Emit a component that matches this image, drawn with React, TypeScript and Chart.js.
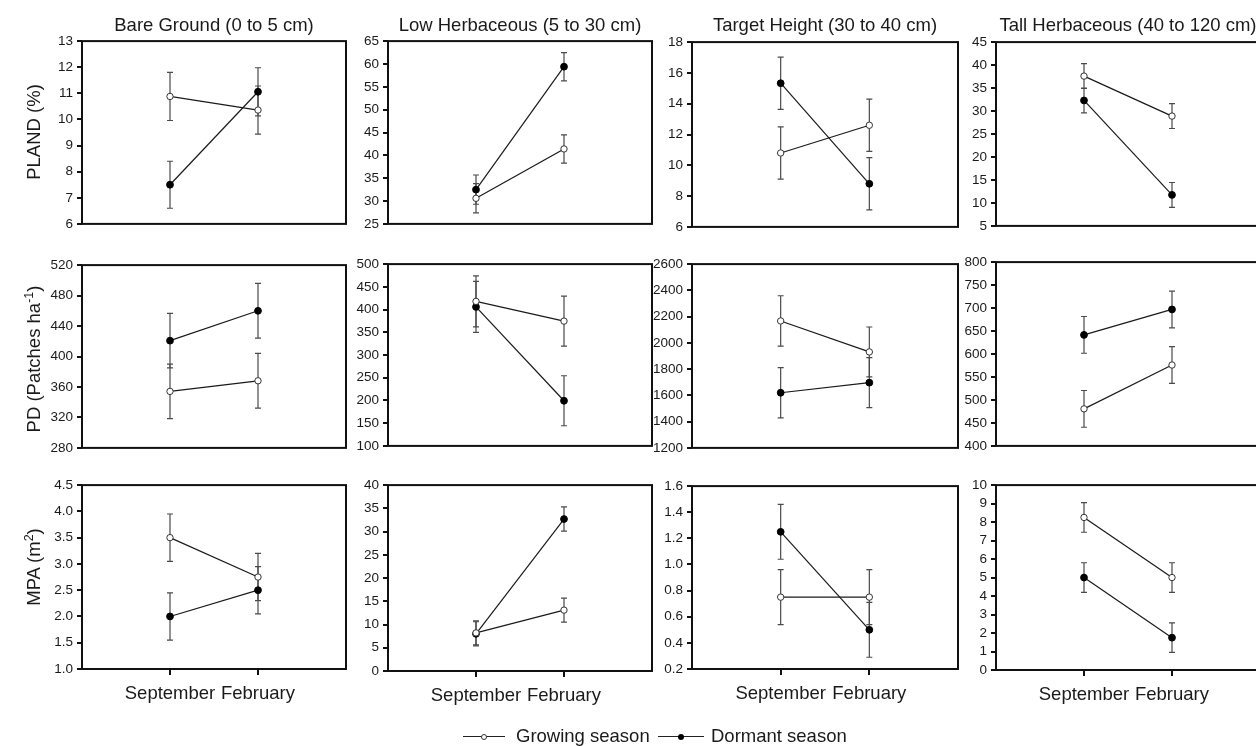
import React, { useEffect, useRef } from 'react';
import { Chart, registerables } from 'chart.js';

Chart.register(...registerables);

// ---------- data ----------
const months = ['September', 'February'];
const monthPos = [1, 2];
const habitats = [
  'Bare Ground (0 to 5 cm)',
  'Low Herbaceous (5 to 30 cm)',
  'Target Height (30 to 40 cm)',
  'Tall Herbaceous (40 to 120 cm)',
];
const seriesNames = ['Growing season', 'Dormant season'];

// PLAND (%)
const plandGrowing = [[10.88, 10.36], [30.6, 41.4], [10.8, 12.6], [37.6, 28.9]];
const plandGrowingSE = [[0.92, 0.92], [3.2, 3.1], [1.7, 1.7], [2.7, 2.7]];
const plandDormant = [[7.5, 11.06], [32.5, 59.4], [15.33, 8.8], [32.3, 11.75]];
const plandDormantSE = [[0.9, 0.92], [3.2, 3.1], [1.7, 1.7], [2.7, 2.7]];
const plandMin = [6, 25, 6, 5];
const plandMax = [13, 65, 18, 45];
const plandStep = [1, 5, 2, 5];

// PD (Patches ha-1)
const pdGrowing = [[354.2, 368.1], [418, 374.6], [2167, 1931], [480.6, 576]];
const pdGrowingSE = [[35.8, 36], [56, 55], [192, 190], [40, 40]];
const pdDormant = [[420.8, 460], [405.8, 199.3], [1620, 1697], [641.6, 697]];
const pdDormantSE = [[35.8, 36], [56, 55], [192, 190], [40, 40]];
const pdMin = [280, 100, 1200, 400];
const pdMax = [520, 500, 2600, 800];
const pdStep = [40, 50, 200, 50];

// MPA (m2)
const mpaGrowing = [[3.5, 2.75], [8.2, 13.1], [0.75, 0.75], [8.25, 5.0]];
const mpaGrowingSE = [[0.45, 0.45], [2.6, 2.6], [0.21, 0.21], [0.8, 0.8]];
const mpaDormant = [[2.0, 2.5], [8.0, 32.7], [1.25, 0.5], [5.0, 1.75]];
const mpaDormantSE = [[0.45, 0.45], [2.6, 2.6], [0.21, 0.21], [0.8, 0.8]];
const mpaMin = [1, 0, 0.2, 0];
const mpaMax = [4.5, 40, 1.6, 10];
const mpaStep = [0.5, 5, 0.2, 1];

const metrics = [
  { g: plandGrowing, gse: plandGrowingSE, d: plandDormant, dse: plandDormantSE, min: plandMin, max: plandMax, step: plandStep },
  { g: pdGrowing, gse: pdGrowingSE, d: pdDormant, dse: pdDormantSE, min: pdMin, max: pdMax, step: pdStep },
  { g: mpaGrowing, gse: mpaGrowingSE, d: mpaDormant, dse: mpaDormantSE, min: mpaMin, max: mpaMax, step: mpaStep },
];

// ---------- layout ----------
const FONT = '"Liberation Sans", Arial, Helvetica, sans-serif';
const COL_L = [82, 388, 692, 996];
const COL_R = [346, 652, 958, 1260];
const ROW_T = [[41, 41, 42, 42], [265, 264, 264, 262], [485, 485, 486, 485]];
const ROW_B = [[226, 226, 229, 228], [450, 448, 450, 448], [669, 671, 669, 670]];
const YW = 60; // y-axis band width
const PT = 12; // top padding
const PR = 6; // right padding
const XH_TOP = 10;
const XH_BOTTOM = 50;

function panelBox(r: number, c: number) {
  const xh = r === 2 ? XH_BOTTOM : XH_TOP;
  const left = COL_L[c] - YW;
  const top = ROW_T[r][c] - PT;
  const width = YW + (COL_R[c] - COL_L[c]) + PR;
  const height = PT + (ROW_B[r][c] - ROW_T[r][c]) + xh;
  return { left, top, width, height, xh };
}

const errorBarPlugin = (seArrays: number[][]) => ({
  id: 'errorBarsAndFrame',
  beforeDatasetsDraw(chart: any) {
    const { ctx, chartArea, scales } = chart;
    const xs = scales.x;
    const ys = scales.y;
    ctx.save();
    // error bars
    ctx.strokeStyle = '#4a4a4a';
    ctx.lineWidth = 1.2;
    chart.data.datasets.forEach((ds: any, i: number) => {
      ds.data.forEach((pt: any, j: number) => {
        const se = seArrays[i][j];
        const x = xs.getPixelForValue(pt.x);
        const yT = ys.getPixelForValue(pt.y + se);
        const yB = ys.getPixelForValue(pt.y - se);
        ctx.beginPath();
        ctx.moveTo(x, yT);
        ctx.lineTo(x, yB);
        ctx.moveTo(x - 3, yT);
        ctx.lineTo(x + 3, yT);
        ctx.moveTo(x - 3, yB);
        ctx.lineTo(x + 3, yB);
        ctx.stroke();
      });
    });
    // frame
    ctx.strokeStyle = '#111';
    ctx.lineWidth = 2;
    ctx.strokeRect(chartArea.left, chartArea.top, chartArea.right - chartArea.left, chartArea.bottom - chartArea.top);
    ctx.restore();
  },
});

function buildChart(canvas: HTMLCanvasElement, r: number, c: number) {
  const m = metrics[r];
  const box = panelBox(r, c);
  const bottomRow = r === 2;
  const decimals = m.step[c] < 1 ? 1 : 0;
  const growingData = monthPos.map((x, j) => ({ x, y: m.g[c][j] }));
  const dormantData = monthPos.map((x, j) => ({ x, y: m.d[c][j] }));
  return new Chart(canvas, {
    type: 'line',
    data: {
      datasets: [
        {
          label: seriesNames[0],
          data: growingData,
          borderColor: '#1a1a1a',
          borderWidth: 1.2,
          pointRadius: 3.2,
          pointBackgroundColor: '#ffffff',
          pointBorderColor: '#333333',
          pointBorderWidth: 1,
          tension: 0,
        },
        {
          label: seriesNames[1],
          data: dormantData,
          borderColor: '#1a1a1a',
          borderWidth: 1.2,
          pointRadius: 3.4,
          pointBackgroundColor: '#000000',
          pointBorderColor: '#000000',
          pointBorderWidth: 1,
          tension: 0,
        },
      ],
    },
    options: {
      responsive: false,
      animation: false,
      events: [],
      layout: { padding: { top: PT, right: PR, left: 0, bottom: 0 }, autoPadding: false },
      plugins: { legend: { display: false }, tooltip: { enabled: false }, title: { display: false } },
      scales: {
        x: {
          type: 'linear',
          min: 0,
          max: 3,
          afterBuildTicks: (axis: any) => {
            axis.ticks = monthPos.map((v) => ({ value: v }));
          },
          afterFit: (axis: any) => {
            axis.height = box.xh;
          },
          ticks: {
            display: bottomRow,
            autoSkip: false,
            maxRotation: 0,
            padding: 8,
            color: '#1a1a1a',
            font: { family: FONT, size: 18.5 },
            callback: (v: any) => {
              const k = monthPos.indexOf(Number(v));
              return k >= 0 ? months[k] : '';
            },
          },
          grid: {
            display: bottomRow,
            drawOnChartArea: false,
            drawTicks: true,
            tickLength: 6,
            color: '#111',
            lineWidth: 2,
          },
          border: { display: false },
        },
        y: {
          type: 'linear',
          min: m.min[c],
          max: m.max[c],
          afterFit: (axis: any) => {
            axis.width = YW;
          },
          ticks: {
            stepSize: m.step[c],
            autoSkip: false,
            padding: 4,
            color: '#1a1a1a',
            font: { family: FONT, size: 13.5 },
            callback: (v: any) => Number(v).toFixed(decimals),
          },
          grid: {
            display: true,
            drawOnChartArea: false,
            drawTicks: true,
            tickLength: 5,
            color: '#111',
            lineWidth: 2,
          },
          border: { display: false },
        },
      },
    } as any,
    plugins: [errorBarPlugin([m.gse[c], m.dse[c]])],
  });
}

const yTitles = [
  { cy: 131.5, content: <>PLAND (%)</> },
  {
    cy: 358.5,
    content: (
      <>
        PD (Patches ha<span style={{ fontSize: 12.5, position: 'relative', top: -7 }}>-1</span>)
      </>
    ),
  },
  {
    cy: 566.5,
    content: (
      <>
        MPA (m<span style={{ fontSize: 12.5, position: 'relative', top: -7 }}>2</span>)
      </>
    ),
  },
];

export default function App() {
  const refs = useRef<(HTMLCanvasElement | null)[]>([]);

  useEffect(() => {
    const charts: Chart[] = [];
    for (let r = 0; r < 3; r++) {
      for (let c = 0; c < 4; c++) {
        const cv = refs.current[r * 4 + c];
        if (cv) charts.push(buildChart(cv, r, c));
      }
    }
    return () => charts.forEach((ch) => ch.destroy());
  }, []);

  const textStyle: React.CSSProperties = {
    position: 'absolute',
    fontFamily: FONT,
    fontSize: 18.5,
    lineHeight: '20px',
    color: '#1a1a1a',
    whiteSpace: 'nowrap',
  };

  const canvases = [];
  for (let r = 0; r < 3; r++) {
    for (let c = 0; c < 4; c++) {
      const b = panelBox(r, c);
      canvases.push(
        <canvas
          key={`p${r}${c}`}
          ref={(el) => {
            refs.current[r * 4 + c] = el;
          }}
          width={b.width}
          height={b.height}
          style={{ position: 'absolute', left: b.left, top: b.top, width: b.width, height: b.height }}
        />
      );
    }
  }

  return (
    <div
      style={{
        position: 'absolute',
        left: 0,
        top: 0,
        width: 1256,
        height: 746,
        overflow: 'hidden',
        background: '#ffffff',
      }}
    >
      {canvases}
      {habitats.map((h, c) => {
        const cx = (COL_L[c] + COL_R[c]) / 2;
        return (
          <div key={h} style={{ ...textStyle, left: cx - 200, width: 400, top: 15, textAlign: 'center' }}>
            {h}
          </div>
        );
      })}
      {yTitles.map((t, i) => (
        <div
          key={i}
          style={{
            ...textStyle,
            left: 34 - 150,
            top: t.cy - 10,
            width: 300,
            height: 20,
            textAlign: 'center',
            transform: 'rotate(-90deg)',
            transformOrigin: '50% 50%',
          }}
        >
          {t.content}
        </div>
      ))}
      {/* legend */}
      <div style={{ position: 'absolute', left: 463, top: 736, width: 42, height: 1, background: '#222' }} />
      <div
        style={{
          position: 'absolute',
          left: 481,
          top: 733.5,
          width: 6,
          height: 6,
          boxSizing: 'border-box',
          borderRadius: '50%',
          border: '1px solid #333',
          background: '#fff',
        }}
      />
      <div style={{ ...textStyle, left: 516, top: 726 }}>{seriesNames[0]}</div>
      <div style={{ position: 'absolute', left: 658, top: 736, width: 46, height: 1, background: '#222' }} />
      <div
        style={{
          position: 'absolute',
          left: 678,
          top: 733.5,
          width: 6,
          height: 6,
          borderRadius: '50%',
          background: '#000',
        }}
      />
      <div style={{ ...textStyle, left: 711, top: 726 }}>{seriesNames[1]}</div>
    </div>
  );
}
